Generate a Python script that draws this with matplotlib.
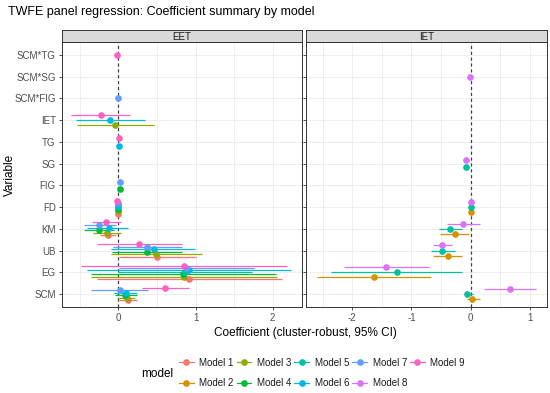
import numpy as np
import matplotlib
matplotlib.use('Agg')
import matplotlib.pyplot as plt
from matplotlib.lines import Line2D

plt.rcParams['font.family'] = ['Liberation Sans', 'DejaVu Sans']

# 变量顺序（自下而上）
variables = ['SCM', 'EG', 'UB', 'KM', 'FD', 'FIG', 'SG', 'TG', 'IET',
             'SCM*FIG', 'SCM*SG', 'SCM*TG']
models = ['Model 1', 'Model 2', 'Model 3', 'Model 4', 'Model 5',
          'Model 6', 'Model 7', 'Model 8', 'Model 9']
palette = ['#F8766D', '#D39200', '#93AA00', '#00BA38', '#00C19F',
           '#00B9E3', '#619CFF', '#DB72FB', '#FF61C3']

# EET 面板
eet_var = ['SCM*TG', 'SCM*FIG',
           'IET', 'IET', 'IET',
           'TG', 'TG',
           'FIG', 'FIG',
           'FD', 'FD', 'FD', 'FD', 'FD', 'FD', 'FD',
           'KM', 'KM', 'KM', 'KM', 'KM', 'KM',
           'UB', 'UB', 'UB', 'UB', 'UB', 'UB',
           'EG', 'EG', 'EG', 'EG', 'EG', 'EG', 'EG',
           'SCM', 'SCM', 'SCM', 'SCM', 'SCM', 'SCM']
eet_model = [9, 7,
             9, 6, 3,
             9, 6,
             7, 4,
             9, 7, 6, 5, 4, 3, 1,
             9, 7, 6, 4, 3, 1,
             9, 7, 6, 4, 3, 1,
             9, 7, 6, 5, 4, 3, 1,
             9, 7, 6, 4, 3, 1]
eet_est = [-0.02, 0.00,
           -0.23, -0.11, -0.045,
           0.015, 0.01,
           0.02, 0.02,
           -0.02, -0.01, -0.01, -0.01, -0.01, -0.01, -0.01,
           -0.16, -0.25, -0.12, -0.25, -0.15, -0.14,
           0.27, 0.37, 0.46, 0.37, 0.49, 0.50,
           0.85, 0.88, 0.91, 0.86, 0.84, 0.85, 0.91,
           0.61, 0.02, 0.10, 0.09, 0.11, 0.12]
eet_lo = [-0.04, -0.02,
          -0.61, -0.55, -0.54,
          -0.01, -0.01,
          0.00, 0.00,
          -0.04, -0.03, -0.03, -0.03, -0.03, -0.03, -0.03,
          -0.34, -0.45, -0.40, -0.45, -0.33, -0.24,
          -0.27, -0.07, -0.09, -0.08, -0.10, 0.01,
          -0.48, 0.01, -0.40, 0.00, -0.36, -0.36, -0.28,
          0.31, -0.35, -0.05, -0.04, -0.02, 0.01]
eet_hi = [0.00, 0.02,
          0.15, 0.35, 0.46,
          0.04, 0.03,
          0.04, 0.04,
          0.00, 0.01, 0.01, 0.01, 0.01, 0.01, 0.01,
          0.04, -0.03, 0.12, -0.05, 0.03, -0.03,
          0.83, 0.83, 0.99, 0.82, 1.09, 1.00,
          2.18, 1.76, 2.24, 1.73, 2.04, 2.06, 2.12,
          0.92, 0.39, 0.24, 0.24, 0.22, 0.24]

# IET 面板
iet_var = ['SCM*SG',
           'SG', 'SG',
           'FD', 'FD', 'FD',
           'KM', 'KM', 'KM',
           'UB', 'UB', 'UB',
           'EG', 'EG', 'EG',
           'SCM', 'SCM', 'SCM']
iet_model = [8,
             8, 5,
             8, 5, 2,
             8, 5, 2,
             8, 5, 2,
             8, 5, 2,
             8, 5, 2]
iet_est = [-0.01,
           -0.08, -0.07,
           0.00, 0.01, 0.01,
           -0.13, -0.35, -0.27,
           -0.49, -0.48, -0.39,
           -1.43, -1.25, -1.64,
           0.66, -0.06, 0.03]
iet_lo = [-0.03,
          -0.11, -0.10,
          -0.01, -0.01, -0.01,
          -0.40, -0.53, -0.51,
          -0.63, -0.67, -0.63,
          -2.14, -2.36, -2.59,
          0.23, -0.10, -0.06]
iet_hi = [0.01,
          -0.04, -0.03,
          0.01, 0.02, 0.02,
          0.16, -0.14, -0.03,
          -0.32, -0.26, -0.15,
          -0.71, -0.14, -0.67,
          1.11, 0.04, 0.16]

panels = [
    ('EET', eet_var, eet_model, eet_est, eet_lo, eet_hi, (-0.73, 2.38),
     [0, 1, 2], [-0.5, 0.5, 1.5]),
    ('IET', iet_var, iet_model, iet_est, iet_lo, iet_hi, (-2.78, 1.29),
     [-2, -1, 0, 1], [-2.5, -1.5, -0.5, 0.5]),
]

W, H = 550, 393
fig = plt.figure(figsize=(W / 100, H / 100), dpi=100)

panel_x = [(62, 302), (306, 547)]
top, bottom = 42, 307
strip_top = 30
dodge_w = 0.7
grey30 = '#4D4D4D'

for k, (name, v, m, est, lo, hi, xlim, majors, minors) in enumerate(panels):
    x0, x1 = panel_x[k]
    ax = fig.add_axes([x0 / W, 1 - bottom / H, (x1 - x0) / W, (bottom - top) / H])
    ax.set_facecolor('white')
    for xv in majors + minors:
        ax.axvline(xv, color='#EBEBEB', lw=0.6, zorder=0)
    for i in range(len(variables)):
        ax.axhline(i + 1, color='#EBEBEB', lw=0.6, zorder=0)
    ax.axvline(0, color='#404040', lw=0.9, ls=(0, (2.5, 2.2)), zorder=1)

    # 位置躲避（按变量分组）
    for var in variables:
        idx = [j for j in range(len(v)) if v[j] == var]
        idx = sorted(idx, key=lambda j: m[j])
        n = len(idx)
        for r, j in enumerate(idx):
            y = variables.index(var) + 1 + (r - (n - 1) / 2) * dodge_w / n
            c = palette[m[j] - 1]
            ax.plot([lo[j], hi[j]], [y, y], color=c, lw=0.9, zorder=2,
                    solid_capstyle='butt')
            ax.plot(est[j], y, 'o', color=c, ms=4.8, mec='none', zorder=3)

    ax.set_xlim(*xlim)
    ax.set_ylim(0.4, len(variables) + 0.6)
    ax.set_xticks(majors)
    ax.set_xticklabels([f'{t:g}' for t in majors])
    ax.set_yticks(range(1, len(variables) + 1))
    if k == 0:
        ax.set_yticklabels(variables)
    else:
        ax.set_yticklabels([])
        ax.tick_params(axis='y', length=0)
    ax.tick_params(colors='#333333', labelcolor=grey30, labelsize=7,
                   length=2.5, width=0.6, pad=2)
    for s in ax.spines.values():
        s.set_color('#333333')
        s.set_linewidth(0.7)

    # 分面标签条
    sax = fig.add_axes([x0 / W, 1 - top / H, (x1 - x0) / W, (top - strip_top) / H])
    sax.set_facecolor('#D9D9D9')
    sax.set_xticks([])
    sax.set_yticks([])
    for s in sax.spines.values():
        s.set_color('#333333')
        s.set_linewidth(0.7)
    sax.text(0.5, 0.45, name, ha='center', va='center', fontsize=7,
             color='#1A1A1A', transform=sax.transAxes)

fig.text(8 / W, 1 - 12 / H, 'TWFE panel regression: Coefficient summary by model',
         ha='left', va='center', fontsize=9, color='black')
fig.text(10 / W, 1 - 175 / H, 'Variable', rotation=90, ha='center', va='center',
         fontsize=8.5, color='black')
fig.text(305 / W, 1 - 333 / H, 'Coefficient (cluster-robust, 95% CI)',
         ha='center', va='center', fontsize=8.5, color='black')

# 图例
handles = [Line2D([0], [0], color=palette[i], lw=0.9, marker='o', ms=4.8,
                  mec='none', label=models[i]) for i in range(len(models))]
fig.text(157 / W, 1 - 374 / H, 'model', ha='center', va='center',
         fontsize=8.5, color='black')
fig.legend(handles=handles, ncol=5, loc='center', frameon=False,
           bbox_to_anchor=(322 / W, 1 - 373 / H), fontsize=7,
           handlelength=1.5, handletextpad=0.6, columnspacing=0.3,
           labelspacing=1.1, labelcolor='#1A1A1A')

plt.savefig('out.png', dpi=100)
